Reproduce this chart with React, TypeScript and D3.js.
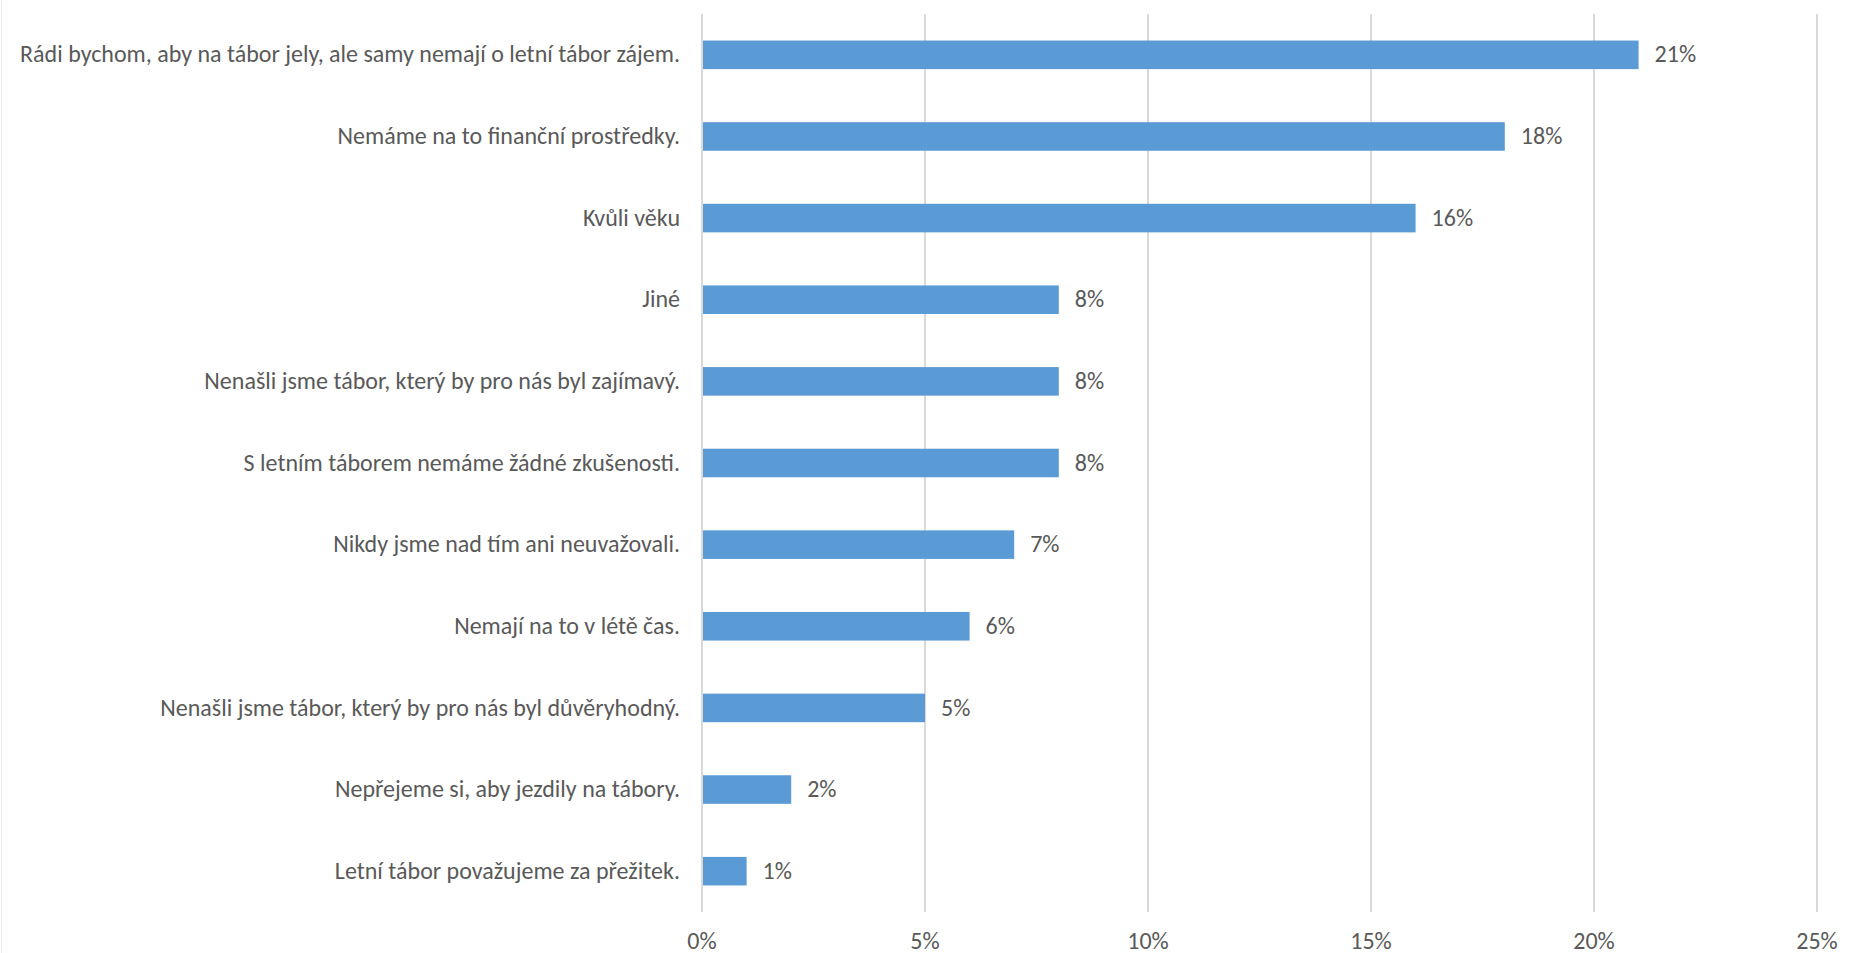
import React from "react";
import * as d3 from "d3";

const categories = [
  "Rádi bychom, aby na tábor jely, ale samy nemají o letní tábor zájem.",
  "Nemáme na to finanční prostředky.",
  "Kvůli věku",
  "Jiné",
  "Nenašli jsme tábor, který by pro nás byl zajímavý.",
  "S letním táborem nemáme žádné zkušenosti.",
  "Nikdy jsme nad tím ani neuvažovali.",
  "Nemají na to v létě čas.",
  "Nenašli jsme tábor, který by pro nás byl důvěryhodný.",
  "Nepřejeme si, aby jezdily na tábory.",
  "Letní tábor považujeme za přežitek.",
];
const values = [0.21, 0.18, 0.16, 0.08, 0.08, 0.08, 0.07, 0.06, 0.05, 0.02, 0.01];
const ticks = [0, 0.05, 0.1, 0.15, 0.2, 0.25];

const W = 1852;
const H = 953;
const FONT = "Carlito, 'Open Sans', sans-serif";
const TEXT = "#595959";
const FS = 24;

export default function App() {
  const x = d3.scaleLinear().domain([0, 0.25]).range([702, 1817]);
  const y = d3
    .scaleBand<string>()
    .domain(categories)
    .range([14, 912])
    .paddingInner(0.65)
    .paddingOuter(0.325);
  const fmt = d3.format(".0%");
  const bw = y.bandwidth();
  return (
    <svg
      width={W}
      height={H}
      style={{ position: "absolute", left: 0, top: 0, background: "#fff" }}
      fontFamily={FONT}
    >
      <line x1={1.5} x2={1.5} y1={0} y2={H} stroke="#ececec" strokeWidth={1} />
      {ticks.map((t) => (
        <line
          key={"g" + t}
          x1={x(t)}
          x2={x(t)}
          y1={14}
          y2={912}
          stroke="#d9d9d9"
          strokeWidth={2}
        />
      ))}
      {categories.map((c, i) => (
        <rect
          key={"b" + i}
          x={x(0) + 1}
          y={y(c)!}
          width={x(values[i]) - x(0) - 1}
          height={bw}
          fill="#5B9BD5"
        />
      ))}
      {categories.map((c, i) => (
        <text
          key={"l" + i}
          x={680}
          y={y(c)! + bw / 2 + 7.6}
          textAnchor="end"
          fontSize={FS}
          fill={TEXT}
        >
          {c}
        </text>
      ))}
      {categories.map((c, i) => (
        <text
          key={"v" + i}
          x={x(values[i]) + 16}
          y={y(c)! + bw / 2 + 7.6}
          fontSize={FS}
          fill={TEXT}
        >
          {fmt(values[i])}
        </text>
      ))}
      {ticks.map((t) => (
        <text
          key={"t" + t}
          x={x(t)}
          y={949}
          textAnchor="middle"
          fontSize={FS}
          fill={TEXT}
        >
          {fmt(t)}
        </text>
      ))}
    </svg>
  );
}
